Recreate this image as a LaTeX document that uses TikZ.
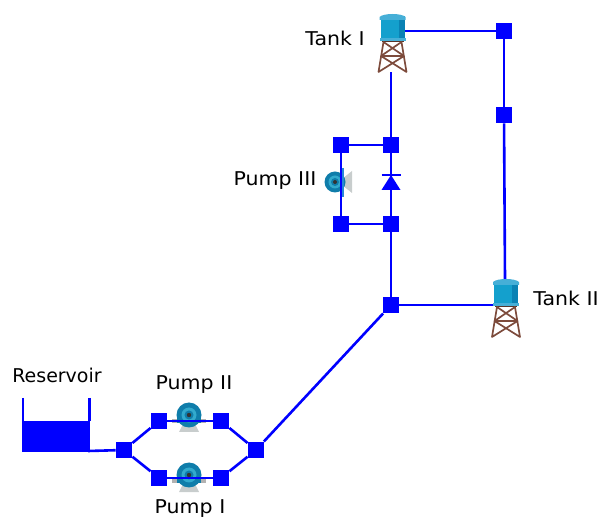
\documentclass[tikz,border=0pt]{standalone}
\usepackage{fontspec}
\setmainfont{DejaVu Sans}
\newfontfamily\widefont[FakeStretch=1.08]{DejaVu Sans}
\usetikzlibrary{calc}
\definecolor{pipe}{RGB}{0,0,255}
\definecolor{tankc}{RGB}{20,160,205}
\definecolor{tankd}{RGB}{10,130,180}
\definecolor{tankt}{RGB}{70,175,215}
\definecolor{legc}{RGB}{125,75,60}
\definecolor{pumpc}{RGB}{15,125,170}
\definecolor{pumpl}{RGB}{50,170,205}
\definecolor{baseg}{RGB}{200,205,205}
\tikzset{
  x=1pt,y=-1pt,
  junction/.style={draw=none,fill=pipe,minimum size=16.5pt,inner sep=0pt,rectangle},
  pipeline/.style={draw=pipe,line width=2.6pt},
  lbl/.style={font=\fontsize{19}{22}\selectfont,text=black,inner sep=0pt,anchor=center},
  widelbl/.style={font=\widefont\fontsize{19}{22}\selectfont,text=black,inner sep=0pt,anchor=center},
  anchorpt/.style={inner sep=0pt,minimum size=0pt},
  watertower/.pic={
    % origin: centre of tower at top of tank
    \fill[tankc] (-12,2) rectangle (12,25);
    \fill[tankd] (6,4) rectangle (12,25);
    \fill[tankt] (-13,6) -- (-13,3) .. controls (-9,-1) and (9,-1) .. (13,3) -- (13,6) -- cycle;
    \fill[tankt] (-13,24) rectangle (13,27);
    \fill[legc!70!black] (-11,27) rectangle (11,28.5);
    \draw[legc,line width=1.7pt,line cap=round]
      (-9,28) -- (-14,58) (9,28) -- (14,58)
      (-9,28) -- (11.5,42) (9,28) -- (-11.5,42)
      (-11.5,42) -- (14,58) (11.5,42) -- (-14,58)
      (-11.5,42) -- (11.5,42);
  },
  pumpunit/.pic={
    % origin: centre of the pump casing
    \fill[baseg] (-4,5) -- (4,5) -- (10,17) -- (-10,17) -- cycle;
    \fill[gray!60] (-17,4) rectangle (17,8);
    \fill[pumpc] (0,0) circle (12.5);
    \fill[pumpc] (-12,2) rectangle (12,8);
    \fill[pumpl] (0,0) circle (7.5);
    \fill[pumpc] (0,0) circle (4.5);
    \fill[black!80] (0,0) circle (2.2);
  },
  sidepump/.pic={
    \fill[baseg] (7,-3) -- (17,-11) -- (17,11) -- (7,3) -- cycle;
    \fill[pumpc] (0,0) circle (10.5);
    \fill[pumpl] (0,0) circle (6.5);
    \fill[pumpc] (0,0) circle (4);
    \fill[black!80] (0,0) circle (2);
    \fill[pumpl!80!blue] (6,-14) rectangle (9,15);
  }
}
\begin{document}
\begin{tikzpicture}
\useasboundingbox (0,0) rectangle (600,518);

% anchor points
\node[junction] (j1) at (504,31) {};
\node[junction] (j2) at (504,115) {};
\node[junction] (a1) at (341,145) {};
\node[junction] (a2) at (391,145) {};
\node[junction] (b1) at (341,224) {};
\node[junction] (b2) at (391,224) {};
\node[junction] (c) at (391,305) {};
\node[junction] (p1) at (124,450) {};
\node[junction] (p2a) at (159,421) {};
\node[junction] (p2b) at (221,421) {};
\node[junction] (p3a) at (159,478) {};
\node[junction] (p3b) at (221,478) {};
\node[junction] (d) at (256,450) {};
\node[anchorpt] (t1out) at (405,31) {};
\node[anchorpt] (t1in) at (391,72) {};
\node[anchorpt] (t2top) at (505,279) {};
\node[anchorpt] (t2in) at (494,305) {};
\node[anchorpt] (resout) at (88,451) {};

% connectors
\draw[pipeline] (t1out) -- (j1);
\draw[pipeline] (j1) -- (j2);
\draw[pipeline] (j2) -- (t2top);
\draw[pipeline] (t2in) -- (c);
\draw[pipeline] (t1in) -- (a2);
\draw[pipeline] (a1) -- (a2);
\draw[pipeline] (a1) -- (b1);
\draw[pipeline] (b1) -- (b2);
\draw[pipeline] (a2) -- (b2);
\draw[pipeline] (b2) -- (c);
\draw[pipeline] (c) -- (d);
\draw[pipeline] (resout) -- (p1);
\draw[pipeline] (p1) -- (p2a);
\draw[pipeline] (p1) -- (p3a);
\draw[pipeline] (p2b) -- (d);
\draw[pipeline] (p3b) -- (d);

% reservoir
\fill[pipe] (22,421) rectangle (90,452);
\draw[pipe,line width=2.6pt] (23,398) -- (23,421);
\draw[pipe,line width=2.6pt] (89.5,398) -- (89.5,421);

% check valve
\fill[pipe] (391,175) -- (400.5,190) -- (381.5,190) -- cycle;
\draw[pipe,line width=1.8pt] (381.5,175) -- (400.5,175);

% equipment
\pic at (392.5,14) {watertower};
\pic at (506,279) {watertower};
\pic at (189,415) {pumpunit};
\pic at (189,475) {pumpunit};
\pic at (335,182) {sidepump};
\draw[pipeline] (p2a) -- (p2b);
\draw[pipeline] (p3a) -- (p3b);
\draw[pipe,line width=2pt] (a1) -- (b1);

% labels
\node[widelbl] (l1) at (335,38) {Tank I};
\node[widelbl] (l2) at (566,298) {Tank II};
\node[widelbl] (l3) at (275,181) {Pump III};
\node[lbl] (l4) at (57,375) {Reservoir};
\node[widelbl] (l5) at (194,385) {Pump II};
\node[widelbl] (l6) at (190,509) {Pump I};
\end{tikzpicture}
\end{document}
